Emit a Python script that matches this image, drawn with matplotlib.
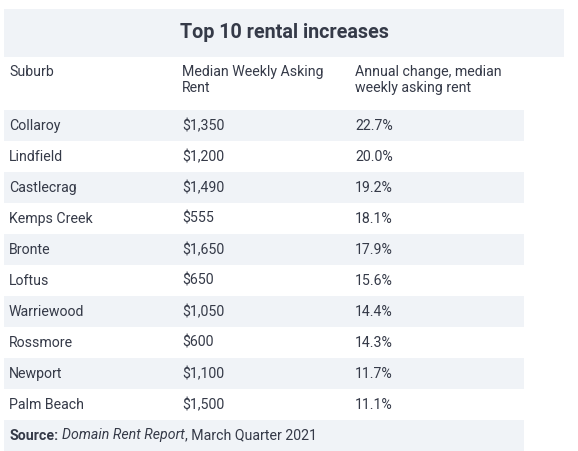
import matplotlib
matplotlib.use("Agg")
import matplotlib.pyplot as plt
from matplotlib.patches import Rectangle

title = "Top 10 rental increases"
headers = ["Suburb", "Median Weekly Asking\nRent", "Annual change, median\nweekly asking rent"]
suburbs = ["Collaroy", "Lindfield", "Castlecrag", "Kemps Creek", "Bronte",
           "Loftus", "Warriewood", "Rossmore", "Newport", "Palm Beach"]
rents = [1350, 1200, 1490, 555, 1650, 650, 1050, 600, 1100, 1500]
changes = [22.7, 20.0, 19.2, 18.1, 17.9, 15.6, 14.4, 14.3, 11.7, 11.1]
source_label = "Source:"
source_italic = "Domain Rent Report"
source_rest = ", March Quarter 2021"

W, H = 578, 451
fig = plt.figure(figsize=(W / 100, H / 100), dpi=100)
ax = fig.add_axes([0, 0, 1, 1])
ax.set_xlim(0, W)
ax.set_ylim(H, 0)
ax.axis("off")

FONT = "Roboto"
TXT = "#353a48"
BAND = "#f0f3f7"
FS = 10.2

# title band
ax.add_patch(Rectangle((4, 9), 560, 48, facecolor=BAND, edgecolor="none"))
ax.text(284, 33, title, ha="center", va="center", fontsize=14.2,
        fontweight="bold", color=TXT, family=FONT)

col_x = [9, 182, 355]
for x, h in zip(col_x, headers):
    ax.text(x, 65, h, ha="left", va="top", fontsize=FS, color=TXT,
            family=FONT, linespacing=1.15)

row_top0, row_h = 110, 31
for i, (s, r, c) in enumerate(zip(suburbs, rents, changes)):
    y0 = row_top0 + i * row_h
    if i % 2 == 0:
        ax.add_patch(Rectangle((4, y0), 520, row_h, facecolor=BAND, edgecolor="none"))
    yc = y0 + row_h / 2 + 0.5
    ax.text(col_x[0], yc, s, ha="left", va="center", fontsize=FS, color=TXT, family=FONT)
    ax.text(col_x[1], yc, f"${r:,}", ha="left", va="center", fontsize=FS, color=TXT, family=FONT)
    ax.text(col_x[2], yc, f"{c:.1f}%", ha="left", va="center", fontsize=FS, color=TXT, family=FONT)

# source band
ys = row_top0 + len(suburbs) * row_h
ax.add_patch(Rectangle((4, ys), 520, row_h, facecolor=BAND, edgecolor="none"))
yc = ys + row_h / 2
SFS = 10.2
t1 = ax.text(col_x[0], yc, source_label, ha="left", va="center", fontsize=SFS,
             fontweight="bold", color=TXT, family=FONT)
fig.canvas.draw()
r = fig.canvas.get_renderer()
bb = t1.get_window_extent(r)
inv = ax.transData.inverted()
x1 = inv.transform((bb.x1, 0))[0] + 4
t2 = ax.text(x1, yc, source_italic, ha="left", va="center", fontsize=SFS,
             style="italic", color=TXT, family=FONT)
bb2 = t2.get_window_extent(r)
x2 = inv.transform((bb2.x1, 0))[0]
ax.text(x2, yc, source_rest, ha="left", va="center", fontsize=SFS, color=TXT, family=FONT)

fig.savefig("out.png", dpi=100)
